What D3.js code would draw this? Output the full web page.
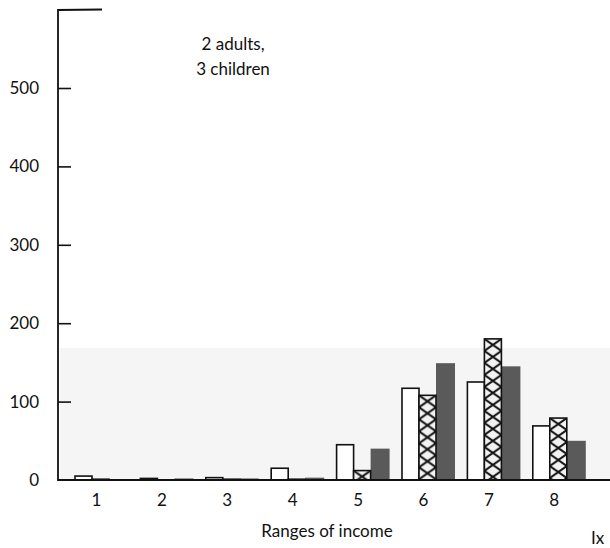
<!DOCTYPE html>
<html>
<head>
<meta charset="utf-8">
<script src="https://cdn.jsdelivr.net/npm/d3@7"></script>
<style>
  html, body { margin: 0; padding: 0; background: #fff; }
  svg { display: block; }
  text { font-family: Lato, "Open Sans", sans-serif; fill: #111; }
</style>
</head>
<body>
<svg id="chart" width="610" height="548"></svg>
<script>
// ---- data ----
const categories = ["1", "2", "3", "4", "5", "6", "7", "8"];
const seriesNames = ["white", "cross", "dark"];
const whiteValues = [5, 2, 3, 15, 45, 117, 125, 69];
const crossValues = [1, 0, 1, 1, 12, 108, 180, 79];
const darkValues  = [0, 2, 2, 3, 40, 149, 145, 50];
const yTicks = [0, 100, 200, 300, 400, 500];
const titleLines = ["2 adults,", "3 children"];
const xTitle = "Ranges of income";
const cornerText = "Ix";

const svg = d3.select("#chart");

const x = d3.scaleBand().domain(categories).range([75, 583.8]).paddingInner(0.22).paddingOuter(0);
const xs = d3.scaleBand().domain(seriesNames).range([0, x.bandwidth()]).padding(0);
const y = d3.scaleLinear().domain([0, 500]).range([480, 88]);

// faint scan shading
svg.append("rect").attr("x", 60).attr("y", 348).attr("width", 550).attr("height", 132)
  .attr("fill", "#f5f5f5");

const rows = categories.map((c, i) => ({ cat: c, white: whiteValues[i], cross: crossValues[i], dark: darkValues[i] }));

// patterns for cross-hatched bars
const defs = svg.append("defs");
rows.forEach((d, i) => {
  const bx = x(d.cat) + xs("cross");
  const w = xs.bandwidth();
  const h = 12;
  const p = defs.append("pattern")
    .attr("id", "xh" + i)
    .attr("patternUnits", "userSpaceOnUse")
    .attr("x", bx).attr("y", y(d.cross))
    .attr("width", w).attr("height", h);
  p.append("rect").attr("width", w).attr("height", h).attr("fill", "#f2f2f2");
  p.append("path").attr("d", `M0,0L${w},${h}M${w},0L0,${h}`)
    .attr("stroke", "#111").attr("stroke-width", 2).attr("fill", "none");
});

const g = svg.append("g");
// white bars
g.selectAll(".wbar").data(rows).join("rect")
  .attr("class", "wbar")
  .attr("x", d => x(d.cat) + xs("white"))
  .attr("y", d => y(d.white))
  .attr("width", xs.bandwidth())
  .attr("height", d => y(0) - y(d.white))
  .attr("fill", "#fff").attr("stroke", "#111").attr("stroke-width", 1.6);
// dark bars
g.selectAll(".dbar").data(rows).join("rect")
  .attr("class", "dbar")
  .attr("x", d => x(d.cat) + xs("dark"))
  .attr("y", d => y(d.dark))
  .attr("width", xs.bandwidth() + 2)
  .attr("height", d => y(0) - y(d.dark))
  .attr("fill", "#5a5a5a");
// cross bars
g.selectAll(".cbar").data(rows).join("rect")
  .attr("class", "cbar")
  .attr("x", d => x(d.cat) + xs("cross"))
  .attr("y", d => y(d.cross))
  .attr("width", xs.bandwidth())
  .attr("height", d => y(0) - y(d.cross))
  .attr("fill", (d, i) => `url(#xh${i})`)
  .attr("stroke", "#111").attr("stroke-width", 1.6);

// y axis
const yAxis = d3.axisLeft(y).tickValues(yTicks).tickSizeInner(-13).tickSizeOuter(0).tickPadding(19);
const ya = svg.append("g").attr("transform", "translate(58,0)").call(yAxis);
ya.select(".domain").remove();
ya.selectAll(".tick line").attr("stroke", "#111").attr("stroke-width", 1.6)
  .filter(d => d === 0).remove();
ya.selectAll(".tick text").attr("font-size", 17).attr("font-family", "Lato, 'Open Sans', sans-serif").attr("fill", "#111");

// axis frame lines
svg.append("path").attr("d", "M102,9.5L58,10L58,480L610,480")
  .attr("fill", "none").attr("stroke", "#111").attr("stroke-width", 1.8);

// x axis labels
const xAxis = d3.axisBottom(x).tickSize(0).tickPadding(0);
const xa = svg.append("g").attr("transform", "translate(-4,494)").call(xAxis);
xa.select(".domain").remove();
xa.selectAll(".tick text").attr("font-size", 17).attr("font-family", "Lato, 'Open Sans', sans-serif").attr("fill", "#111");

// titles
svg.selectAll(".title").data(titleLines).join("text")
  .attr("class", "title")
  .attr("x", 233).attr("y", (d, i) => 50 + i * 25)
  .attr("text-anchor", "middle").attr("font-size", 17)
  .text(d => d);

svg.append("text").attr("x", 327).attr("y", 537).attr("text-anchor", "middle")
  .attr("font-size", 17).text(xTitle);
svg.append("text").attr("x", 591).attr("y", 544).attr("font-size", 17).text(cornerText);
</script>
</body>
</html>
